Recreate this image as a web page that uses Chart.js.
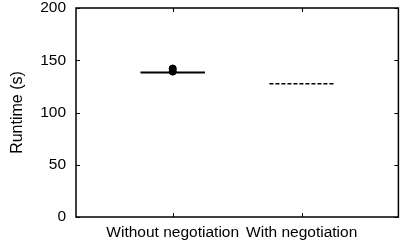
<!DOCTYPE html>
<html><head><meta charset="utf-8">
<script src="https://cdn.jsdelivr.net/npm/chart.js@4/dist/chart.umd.min.js"></script>
<style>html,body{margin:0;padding:0;background:#fff}#wrap{width:403px;height:247px}</style>
</head><body><div id="wrap"><canvas id="c"></canvas></div>
<script>
const categories = ["Without negotiation", "With negotiation"];
const medianRuntime = [138.3, 127.6];
const outlierRuntime = [[142, 139.2], []];
const yTicks = [0, 50, 100, 150, 200];

const FONT = 'Liberation Sans, Arial, Helvetica, sans-serif';
const HALF = 0.25;
const datasets = [];
categories.forEach((c, i) => {
  const x = i + 1;
  datasets.push({
    type: 'line',
    data: [{x: x - HALF, y: medianRuntime[i]}, {x: x + HALF, y: medianRuntime[i]}],
    borderColor: '#000', borderWidth: i === 0 ? 2 : 1.5,
    borderDash: i === 0 ? [] : [4, 2],
    pointRadius: 0, fill: false
  });
  if (outlierRuntime[i].length) {
    datasets.push({
      type: 'scatter',
      data: outlierRuntime[i].map(v => ({x: x, y: v})),
      backgroundColor: '#000', borderColor: '#000', pointRadius: 3.6, pointHoverRadius: 3.6
    });
  }
});

const framePlugin = {
  id: 'frame',
  afterDatasetsDraw(chart) {
    const {ctx, chartArea: a, scales: {x, y}} = chart;
    ctx.save();
    ctx.strokeStyle = '#000';
    ctx.lineWidth = 1.5;
    ctx.strokeRect(a.left, a.top, a.right - a.left, a.bottom - a.top);
    ctx.lineWidth = 1;
    const L = 4;
    yTicks.forEach(v => {
      const py = Math.round(y.getPixelForValue(v)) + 0.5;
      ctx.beginPath();
      ctx.moveTo(a.left, py); ctx.lineTo(a.left + L, py);
      ctx.moveTo(a.right, py); ctx.lineTo(a.right - L, py);
      ctx.stroke();
    });
    categories.forEach((c, i) => {
      const px = Math.round(x.getPixelForValue(i + 1)) + 0.5;
      ctx.beginPath();
      ctx.moveTo(px, a.bottom); ctx.lineTo(px, a.bottom - L);
      ctx.moveTo(px, a.top); ctx.lineTo(px, a.top + L);
      ctx.stroke();
    });
    ctx.restore();
  }
};

new Chart(document.getElementById('c'), {
  type: 'scatter',
  data: {datasets},
  options: {
    responsive: true, maintainAspectRatio: false, animation: false,
    layout: {padding: {top: 8, right: 1, left: 0, bottom: 0}},
    plugins: {legend: {display: false}, tooltip: {enabled: false}},
    scales: {
      x: {
        type: 'linear', min: 0.25, max: 2.75,
        afterBuildTicks(s) { s.ticks = categories.map((c, i) => ({value: i + 1})); },
        afterFit(s) { s.height = 30; s.paddingLeft = 0; s.paddingRight = 0; },
        grid: {display: false, drawTicks: false},
        border: {display: false},
        ticks: {
          padding: 6, color: '#000', maxRotation: 0, autoSkip: false,
          font: {family: FONT, size: 15.5},
          callback: (v) => categories[Math.round(v) - 1] ?? ''
        }
      },
      y: {
        min: 0, max: 200,
        afterBuildTicks(s) { s.ticks = yTicks.map(v => ({value: v})); },
        afterFit(s) { s.width = 76; s.paddingTop = 0; s.paddingBottom = 0; },
        grid: {display: false, drawTicks: false},
        border: {display: false},
        title: {display: true, text: 'Runtime (s)', color: '#000',
          font: {family: FONT, size: 16}, padding: {top: 8, bottom: 0}},
        ticks: {
          padding: 10, color: '#000',
          font: {family: FONT, size: 15.5}
        }
      }
    }
  },
  plugins: [framePlugin]
});
</script></body></html>
